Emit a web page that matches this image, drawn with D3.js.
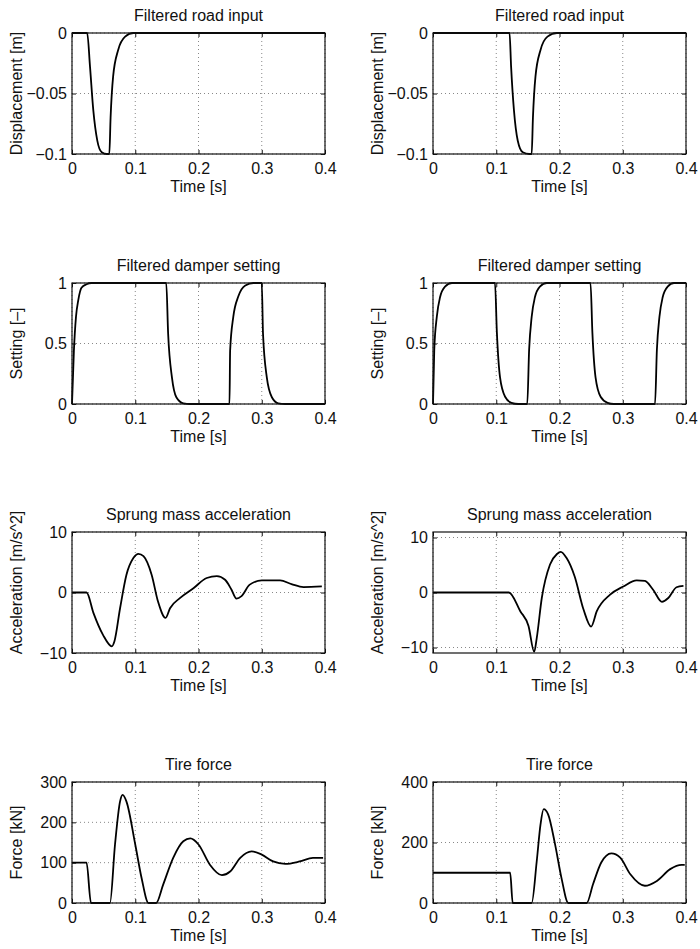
<!DOCTYPE html>
<html>
<head>
<meta charset="utf-8">
<script src="https://cdn.jsdelivr.net/npm/d3@7"></script>
<style>
  body { margin: 0; background: #fff; }
  text { font-family: "Liberation Sans", Arial, sans-serif; fill: #111; }
</style>
</head>
<body>
<div class="canvas"></div>
<script>

// time axis shared by every panel
const timeTicks = [0, 0.1, 0.2, 0.3, 0.4]

// filtered road input [m]
const roadLeftT = [0, 0.024, 0.0285, 0.0337, 0.040, 0.047, 0.055, 0.059, 0.061, 0.065, 0.073, 0.084, 0.097, 0.4]
const roadLeftY = [0, 0, -0.028, -0.064, -0.089, -0.0986, -0.1, -0.1, -0.07, -0.036, -0.014, -0.003, 0, 0]
const roadRightT = [0, 0.121, 0.1235, 0.128, 0.134, 0.142, 0.152, 0.156, 0.158, 0.162, 0.170, 0.181, 0.196, 0.4]
const roadRightY = [0, 0, -0.028, -0.064, -0.089, -0.0986, -0.1, -0.1, -0.07, -0.036, -0.014, -0.003, 0, 0]
const roadTicks = [-0.1, -0.05, 0]

// filtered damper setting [-]
const damperLeftT = [0, 0.003, 0.0063, 0.010, 0.015, 0.023, 0.031, 0.149, 0.152, 0.158, 0.165, 0.176, 0.187,
  0.249, 0.250, 0.255, 0.263, 0.274, 0.287, 0.300, 0.302, 0.308, 0.316, 0.326, 0.337, 0.4]
const damperLeftY = [0, 0.44, 0.72, 0.86, 0.96, 0.99, 1, 1, 0.58, 0.22, 0.056, 0.006, 0,
  0, 0.44, 0.72, 0.89, 0.98, 1, 1, 0.58, 0.22, 0.056, 0.006, 0, 0]
const damperRightT = [0, 0.002, 0.006, 0.011, 0.019, 0.030, 0.098, 0.101, 0.106, 0.114, 0.124, 0.135,
  0.149, 0.152, 0.156, 0.161, 0.169, 0.180, 0.249, 0.252, 0.257, 0.265, 0.276, 0.286,
  0.351, 0.354, 0.358, 0.363, 0.371, 0.381, 0.4]
const damperRightY = [0, 0.45, 0.72, 0.88, 0.97, 1, 1, 0.59, 0.22, 0.06, 0.01, 0,
  0, 0.45, 0.72, 0.88, 0.97, 1, 1, 0.59, 0.22, 0.06, 0.01, 0,
  0, 0.45, 0.72, 0.88, 0.97, 1, 1]
const damperTicks = [0, 0.5, 1]

// sprung mass acceleration [m/s^2]
const accLeftT = [0, 0.023, 0.034, 0.049, 0.063, 0.067, 0.076, 0.086, 0.097, 0.105, 0.113, 0.126, 0.136, 0.148,
  0.155, 0.171, 0.192, 0.213, 0.229, 0.242, 0.252, 0.260, 0.268, 0.281, 0.300, 0.329, 0.347, 0.366, 0.395]
const accLeftY = [0, 0, -3.4, -7.0, -8.9, -8.1, -2.6, 2.9, 5.7, 6.4, 6.0, 2.9, -1.5, -4.2,
  -2.6, -0.9, 0.7, 2.4, 2.7, 2.1, 0.5, -1.0, -0.6, 1.3, 2.0, 2.0, 1.4, 0.9, 1.0]
const accRightT = [0, 0.120, 0.138, 0.151, 0.160, 0.164, 0.172, 0.185, 0.196, 0.202, 0.211, 0.224, 0.238,
  0.250, 0.259, 0.280, 0.301, 0.322, 0.335, 0.348, 0.362, 0.372, 0.385, 0.396]
const accRightY = [0, 0, -3.4, -6.1, -10.8, -8.3, -1.0, 5.1, 7.0, 7.4, 6.3, 2.9, -3.1,
  -6.2, -3.4, -0.4, 1.1, 2.2, 2.1, 0.5, -1.7, -1.0, 0.95, 1.2]
const accTicks = [-10, 0, 10]

// tire force [kN]
const forceLeftT = [0, 0.023, 0.030, 0.060, 0.068, 0.076, 0.080, 0.086, 0.100, 0.110, 0.121, 0.133, 0.144,
  0.160, 0.176, 0.187, 0.200, 0.218, 0.237, 0.250, 0.266, 0.284, 0.300, 0.318, 0.337, 0.360, 0.381, 0.397]
const forceLeftY = [100, 100, 0, 0, 145, 252, 268, 252, 145, 62, 0, 0, 45,
  112, 153, 160, 145, 95, 69, 78, 112, 128, 120, 103, 97, 103, 112, 112]
const forceRightT = [0, 0.122, 0.126, 0.156, 0.164, 0.170, 0.175, 0.182, 0.193, 0.203, 0.214, 0.243, 0.253,
  0.266, 0.282, 0.296, 0.312, 0.335, 0.354, 0.375, 0.393, 0.398]
const forceRightY = [100, 100, 0, 0, 138, 260, 310, 293, 194, 84, 0, 0, 62,
  134, 164, 150, 95, 57, 73, 112, 126, 126]
const forceLeftTicks = [0, 100, 200, 300]
const forceRightTicks = [0, 200, 400]

const titles = ['Filtered road input', 'Filtered damper setting', 'Sprung mass acceleration', 'Tire force']
const yLabels = ['Displacement [m]', 'Setting [–]', 'Acceleration [m/s^2]', 'Force [kN]']

// layout
const graphWidth = 253
const graphHeight = 121
const lefts = [72, 433]
const tops = [33, 283, 532, 782]

const panels = [
  {row: 0, col: 0, t: roadLeftT, v: roadLeftY, domain: [-0.1, 0], ticks: roadTicks},
  {row: 0, col: 1, t: roadRightT, v: roadRightY, domain: [-0.1, 0], ticks: roadTicks},
  {row: 1, col: 0, t: damperLeftT, v: damperLeftY, domain: [0, 1], ticks: damperTicks},
  {row: 1, col: 1, t: damperRightT, v: damperRightY, domain: [0, 1], ticks: damperTicks},
  {row: 2, col: 0, t: accLeftT, v: accLeftY, domain: [-10, 10], ticks: accTicks, labelShift: -10},
  {row: 2, col: 1, t: accRightT, v: accRightY, domain: [-11, 11], ticks: accTicks, labelShift: -10},
  {row: 3, col: 0, t: forceLeftT, v: forceLeftY, domain: [0, 300], ticks: forceLeftTicks},
  {row: 3, col: 1, t: forceRightT, v: forceRightY, domain: [0, 400], ticks: forceRightTicks}
]

const svg = d3.select('.canvas')
  .append('svg')
  .attr('width', 700)
  .attr('height', 949)

svg.append('rect').attr('width', 700).attr('height', 949).attr('fill', '#fff')

const fmt = d3.format('~g')

panels.forEach(p => {
  const graph = svg.append('g')
    .attr('transform', `translate(${lefts[p.col]}, ${tops[p.row]})`)

  const x = d3.scaleLinear().domain([0, 0.4]).range([0, graphWidth])
  const y = d3.scaleLinear().domain(p.domain).range([graphHeight, 0])

  // dotted grid
  graph.append('g')
    .selectAll('line')
    .data(timeTicks)
    .enter().append('line')
    .attr('x1', d => x(d)).attr('x2', d => x(d))
    .attr('y1', 0).attr('y2', graphHeight)
    .attr('stroke', '#888').attr('stroke-width', 1).attr('stroke-dasharray', '1,3')
  graph.append('g')
    .selectAll('line')
    .data(p.ticks)
    .enter().append('line')
    .attr('x1', 0).attr('x2', graphWidth)
    .attr('y1', d => y(d)).attr('y2', d => y(d))
    .attr('stroke', '#888').attr('stroke-width', 1).attr('stroke-dasharray', '1,3')

  // axes, ticks pointing inward
  const xAxisGroup = graph.append('g').attr('transform', `translate(0, ${graphHeight})`)
  const yAxisGroup = graph.append('g')
  const topAxisGroup = graph.append('g')
  const rightAxisGroup = graph.append('g').attr('transform', `translate(${graphWidth}, 0)`)

  xAxisGroup.call(d3.axisBottom(x).tickValues(timeTicks).tickFormat(fmt).tickSize(-4).tickPadding(9))
  yAxisGroup.call(d3.axisLeft(y).tickValues(p.ticks).tickFormat(fmt).tickSize(-4).tickPadding(5))
  topAxisGroup.call(d3.axisTop(x).tickValues(timeTicks).tickFormat('').tickSize(-4))
  rightAxisGroup.call(d3.axisRight(y).tickValues(p.ticks).tickFormat('').tickSize(-4))

  graph.selectAll('.domain').remove()
  graph.selectAll('.tick line').attr('stroke', '#111')
  graph.selectAll('.tick text')
    .attr('font-size', 16)
    .attr('font-family', '"Liberation Sans", Arial, sans-serif')
    .attr('fill', '#111')

  // the line
  const line = d3.line()
    .x(d => x(d[0]))
    .y(d => y(d[1]))
    .curve(d3.curveMonotoneX)

  graph.append('path')
    .datum(d3.zip(p.t, p.v))
    .attr('d', line)
    .attr('fill', 'none')
    .attr('stroke', '#000')
    .attr('stroke-width', 1.8)
    .attr('stroke-linejoin', 'round')

  // box
  graph.append('rect')
    .attr('width', graphWidth).attr('height', graphHeight)
    .attr('fill', 'none').attr('stroke', '#111').attr('stroke-width', 1.2)

  // title and labels
  graph.append('text')
    .attr('x', graphWidth / 2).attr('y', -12)
    .attr('text-anchor', 'middle').attr('font-size', 16)
    .text(titles[p.row])

  graph.append('text')
    .attr('x', graphWidth / 2).attr('y', graphHeight + 38)
    .attr('text-anchor', 'middle').attr('font-size', 16)
    .text('Time [s]')

  graph.append('text')
    .attr('transform', `translate(-50, ${graphHeight / 2 + (p.labelShift || 0)}) rotate(-90)`)
    .attr('text-anchor', 'middle').attr('font-size', 16)
    .text(yLabels[p.row])
})

</script>
</body>
</html>
